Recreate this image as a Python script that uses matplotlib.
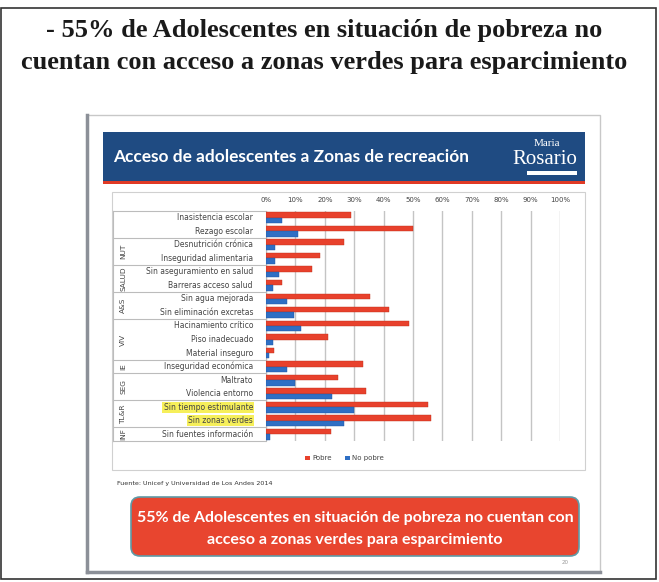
import matplotlib
matplotlib.use("Agg")
import matplotlib.pyplot as plt
import matplotlib.transforms as mtransforms
from matplotlib.patches import Rectangle, FancyBboxPatch
import numpy as np

# datos (% de adolescentes)
categorias = ["Inasistencia escolar", "Rezago escolar", "Desnutrición crónica",
              "Inseguridad alimentaria", "Sin aseguramiento en salud",
              "Barreras acceso salud", "Sin agua mejorada", "Sin eliminación excretas",
              "Hacinamiento crítico", "Piso inadecuado", "Material inseguro",
              "Inseguridad económica", "Maltrato", "Violencia entorno",
              "Sin tiempo estimulante", "Sin zonas verdes", "Sin fuentes información"]
pobre = [29, 50, 26.5, 18.5, 15.5, 5.5, 35.5, 42, 48.5, 21, 2.7, 33, 24.5, 34, 55, 56, 22]
no_pobre = [5.5, 11, 3, 3, 4.5, 2.3, 7, 9.5, 12, 2.5, 1, 7, 10, 22.5, 30, 26.5, 1.2]
grupos = ["", "NUT", "SALUD", "A&S", "VIV", "IE", "SEG", "TL&R", "INF"]
filas_por_grupo = [2, 2, 2, 2, 3, 1, 2, 2, 1]
destacadas = ["Sin tiempo estimulante", "Sin zonas verdes"]
ticks = list(range(0, 101, 10))

W, H = 659, 582
ROJO = "#e8412c"
AZUL = "#2f6fc4"

fig = plt.figure(figsize=(W / 100, H / 100), dpi=100)
fig.patch.set_facecolor("white")

# fondo en coordenadas de pixel
bg = fig.add_axes([0, 0, 1, 1])
bg.set_xlim(0, W)
bg.set_ylim(H, 0)
bg.axis("off")

# marco exterior
bg.add_patch(Rectangle((1, 8), 655, 571, fill=False, ec="#333333", lw=1.2))

# titulo superior
bg.text(324, 31, "- 55% de Adolescentes en situación de pobreza no", ha="center", va="center",
        family="Liberation Serif", weight="bold", fontsize=19, color="#1a1a1a")
bg.text(324, 63, "cuentan con acceso a zonas verdes para esparcimiento", ha="center", va="center",
        family="Liberation Serif", weight="bold", fontsize=19, color="#1a1a1a")

# diapositiva
bg.add_patch(Rectangle((87, 115), 513, 457, fc="white", ec="#c8c8c8", lw=1))
bg.plot([87, 87], [115, 572], color="#8c9098", lw=2.5)
bg.plot([87, 600], [572, 572], color="#8c9098", lw=2.5)

# cabecera azul
bg.add_patch(Rectangle((103, 132), 482, 49, fc="#1f4b82", ec="none"))
bg.add_patch(Rectangle((103, 181), 482, 3, fc="#e03a25", ec="none"))
bg.text(113, 157, "Acceso de adolescentes a Zonas de recreación", ha="left", va="center",
        family="Lato", weight="bold", fontsize=12.4, color="white")
bg.text(547, 143, "Maria", ha="center", va="center", family="Liberation Serif",
        fontsize=8, color="white")
bg.text(545, 160, "Rosario", ha="center", va="center", family="Liberation Serif",
        fontsize=15, color="white")
bg.add_patch(Rectangle((527, 171), 50, 4, fc="white", ec="none"))

# caja del grafico
bg.add_patch(Rectangle((112, 192), 473, 278, fill=False, ec="#d0d0d0", lw=0.8))

# grafico de barras
ax = fig.add_axes([266 / W, 1 - 441 / H, 294 / W, 230 / H])
ax.set_facecolor("none")
y = np.arange(len(categorias))
ax.barh(y - 0.2, pobre, height=0.4, color=ROJO, edgecolor="#c0301c", lw=0.3, zorder=3)
ax.barh(y + 0.2, no_pobre, height=0.4, color=AZUL, edgecolor="#1f55a0", lw=0.3, zorder=3)
ax.set_xlim(0, 100)
ax.set_ylim(len(categorias) - 0.5, -0.5)
ax.xaxis.tick_top()
ax.set_xticks(ticks)
ax.set_xticklabels([f"{t}%" for t in ticks], fontsize=5, color="#444444")
ax.tick_params(axis="x", length=0, pad=6)
ax.set_yticks([])
ax.grid(axis="x", color="#c4c4c4", lw=1, zorder=0)
for s in ["top", "right", "bottom"]:
    ax.spines[s].set_visible(False)
ax.spines["left"].set_color("#bdbdbd")

# panel izquierdo: etiquetas y grupos
tr = mtransforms.blended_transform_factory(bg.transData, ax.transData)
for i, cat in enumerate(categorias):
    kw = {}
    if cat in destacadas:
        kw["bbox"] = dict(boxstyle="square,pad=0.15", fc="#f6ef5a", ec="none")
    ax.text(253, i, cat, transform=tr, ha="right", va="center", fontsize=5.5,
            color="#444444", clip_on=False, **kw)

bordes = [-0.5]
for n in filas_por_grupo:
    bordes.append(bordes[-1] + n)
for b in bordes:
    ax.plot([113, 265], [b, b], transform=tr, color="#bcbcbc", lw=0.8, clip_on=False)
ax.plot([113, 113], [-0.5, len(categorias) - 0.5], transform=tr, color="#bcbcbc",
        lw=0.8, clip_on=False)
for g, a, b in zip(grupos, bordes[:-1], bordes[1:]):
    ax.text(123, (a + b) / 2, g, transform=tr, ha="center", va="center", rotation=90,
            fontsize=5.3, color="#444444", clip_on=False)

# leyenda
bg.add_patch(Rectangle((305, 456), 5, 3.5, fc=ROJO, ec="none"))
bg.text(312, 458, "Pobre", ha="left", va="center", fontsize=5, color="#444444")
bg.add_patch(Rectangle((345, 456), 5, 3.5, fc=AZUL, ec="none"))
bg.text(352, 458, "No pobre", ha="left", va="center", fontsize=5, color="#444444")

bg.text(117, 483, "Fuente: Unicef y Universidad de Los Andes 2014", ha="left", va="center",
        fontsize=4.6, color="#333333")

# recuadro rojo
bg.add_patch(FancyBboxPatch((131, 497), 448, 59, boxstyle="round,pad=0,rounding_size=9",
                            fc="#e8452f", ec="#5f9aa6", lw=1.2))
bg.text(355, 518, "55% de Adolescentes en situación de pobreza no cuentan con",
        ha="center", va="center", family="Lato", weight="bold", fontsize=11.5, color="white")
bg.text(355, 540, "acceso a zonas verdes para esparcimiento",
        ha="center", va="center", family="Lato", weight="bold", fontsize=11.5, color="white")
bg.text(565, 563, "20", ha="center", va="center", fontsize=4, color="#999999")

fig.savefig("out.png", dpi=100)
